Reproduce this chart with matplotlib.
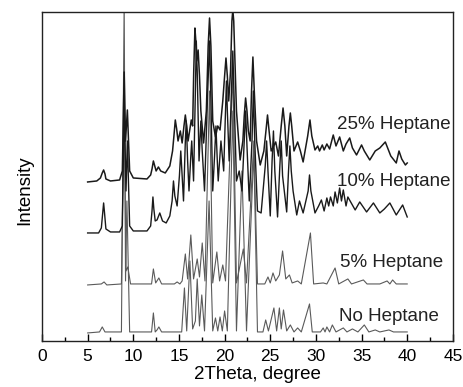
import matplotlib
matplotlib.use('Agg')
import matplotlib.pyplot as plt
from matplotlib.ticker import MultipleLocator, NullLocator

plt.rcParams['font.family'] = ['Liberation Sans', 'DejaVu Sans']

# XRD patterns (2theta, intensity in arbitrary units)
no_x = [5.0, 6.3, 6.6, 6.9, 8.7, 9.0, 9.15, 9.3, 9.6, 12.0, 12.2, 12.4, 12.6, 12.8, 13.1,
        15.3, 15.6, 15.85, 16.2, 16.5, 16.8, 17.0, 17.25, 17.5, 17.8, 18.3, 18.7, 19.0, 19.25,
        19.5, 19.75, 20.0, 20.3, 20.9, 21.3, 21.9, 22.4, 23.2, 23.6, 24.2, 24.5, 24.8, 25.4,
        25.7, 26.0, 26.2, 26.45, 26.8, 27.2, 27.6, 28.0, 28.4, 29.3, 29.6, 30.5, 30.8, 31.0,
        31.2, 31.5, 31.8, 32.2, 33.0, 33.4, 34.0, 34.6, 35.3, 35.8, 36.5, 37.0, 38.0, 38.5, 40.0]
no_y = [8, 9, 14, 9, 9, 340, 60, 140, 9, 9, 28, 9, 11, 14, 9,
        9, 53, 10, 80, 12, 20, 62, 15, 46, 10, 140, 10, 23, 10,
        24, 10, 30, 10, 230, 10, 170, 10, 190, 9, 9, 21, 10, 33,
        10, 33, 12, 31, 10, 16, 9, 13, 9, 37, 9, 9, 13, 9,
        14, 9, 16, 9, 13, 9, 12, 9, 16, 9, 11, 9, 11, 9, 9]

p5_x = [5.0, 6.5, 6.8, 7.1, 8.7, 9.0, 9.2, 9.4, 9.7, 12.0, 12.2, 12.45, 12.8, 13.1, 14.5,
        14.8, 15.1, 15.35, 15.7, 15.95, 16.3, 16.6, 17.0, 17.25, 17.55, 17.85, 18.35, 18.7,
        19.15, 19.45, 19.8, 20.1, 20.9, 21.3, 22.05, 22.4, 23.2, 23.6, 24.4, 24.75, 25.0, 25.3,
        25.6, 26.0, 26.35, 26.7, 27.1, 27.4, 28.0, 28.4, 29.4, 29.75, 30.8, 31.2, 32.1, 32.5,
        33.5, 33.9, 35.2, 35.6, 37.0, 37.8, 38.1, 38.4, 38.8, 40.0]
p5_y = [56, 57, 59, 56, 57, 240, 70, 74, 57, 57, 72, 58, 63, 57, 57,
        59, 57, 60, 87, 62, 106, 62, 82, 64, 98, 60, 250, 58,
        89, 60, 76, 60, 270, 58, 92, 58, 200, 57, 57, 64, 58, 68,
        60, 66, 90, 62, 66, 58, 60, 57, 108, 57, 58, 57, 73, 57,
        62, 57, 61, 57, 57, 60, 57, 61, 57, 57]

p10_x = [5.0, 6.2, 6.5, 6.65, 6.75, 6.85, 7.0, 7.5, 8.5, 8.8, 9.0, 9.2, 9.35, 9.6, 10.0, 11.5,
         11.9, 12.05, 12.15, 12.25, 12.4, 12.6, 12.9, 13.2, 13.6, 14.0, 14.25, 14.4, 14.55, 14.8,
         15.05, 15.2, 15.35, 15.5, 15.7, 15.8, 15.95, 16.1, 16.3, 16.4, 16.6, 16.8, 16.9, 17.0,
         17.2, 17.4, 17.55, 17.8, 18.15, 18.35, 18.5, 18.7, 18.9, 19.05, 19.2, 19.3, 19.6, 19.9,
         20.1, 20.2, 20.3, 20.5, 20.75, 20.9, 21.05, 21.3, 21.6, 21.9, 22.15, 22.3, 22.45, 22.7,
         23.0, 23.15, 23.3, 23.6, 24.0, 24.45, 24.6, 24.75, 25.0, 25.2, 25.35, 25.5, 25.8, 26.05,
         26.2, 26.35, 26.8, 27.0, 27.15, 27.3, 27.5, 27.9, 28.2, 28.6, 29.15, 29.3, 29.45, 29.9,
         30.3, 30.6, 30.9, 31.2, 31.4, 31.6, 31.9, 32.1, 32.35, 32.6, 32.8, 33.0, 33.3, 33.5,
         34.3, 34.8, 35.55, 36.3, 37.0, 37.5, 38.1, 38.8, 39.5, 40.0]
p10_y = [108, 108, 113, 128, 138, 128, 112, 109, 109, 115, 240, 150, 200, 115, 110, 110,
         115, 130, 144, 132, 120, 121, 128, 120, 118, 125, 140, 160, 145, 135,
         165, 190, 165, 140, 200, 220, 180, 150, 185, 200, 160, 250, 300, 270,
         180, 220, 190, 150, 250, 300, 240, 150, 185, 215, 180, 160, 200, 170,
         230, 260, 230, 180, 250, 290, 240, 160, 170, 150, 200, 230, 195, 140,
         200, 250, 200, 130, 128, 175, 200, 170, 125, 180, 210, 170, 124, 175,
         200, 165, 129, 170, 195, 170, 150, 126, 140, 128, 150, 166, 150, 128,
         135, 141, 130, 143, 135, 144, 135, 149, 138, 153, 140, 151, 135, 144,
         131, 139, 129, 138, 128, 132, 138, 126, 136, 124]

p25_x = [5.0, 6.0, 6.4, 6.6, 6.75, 6.9, 7.0, 7.5, 8.5, 8.8, 9.0, 9.15, 9.35, 9.6, 10.0, 11.5,
         11.9, 12.05, 12.2, 12.35, 12.5, 12.75, 13.0, 13.5, 14.0, 14.3, 14.45, 14.6, 14.75,
         14.9, 15.15, 15.35, 15.55, 15.7, 15.85, 16.0, 16.35, 16.5, 16.62, 16.75, 16.85, 16.95,
         17.1, 17.25, 17.4, 17.7, 18.0, 18.2, 18.35, 18.5, 18.7, 19.0, 19.25, 19.5, 19.8, 20.0,
         20.15, 20.3, 20.45, 20.65, 20.8, 20.9, 21.0, 21.3, 21.7, 22.0, 22.15, 22.3, 22.45, 22.6,
         22.8, 22.95, 23.1, 23.25, 23.5, 23.9, 24.3, 24.55, 24.7, 24.85, 25.1, 25.6, 25.9, 26.2,
         26.4, 26.6, 26.8, 27.05, 27.2, 27.35, 27.6, 28.0, 28.3, 28.6, 29.1, 29.35, 29.55, 29.9,
         30.2, 30.4, 30.7, 30.9, 31.2, 31.5, 31.9, 32.2, 32.6, 33.0, 33.3, 33.7, 34.0, 34.45,
         35.0, 35.3, 35.9, 36.5, 37.0, 37.6, 38.2, 38.8, 39.1, 39.4, 39.8, 40.0]
p25_y = [159, 160, 163, 168, 171, 167, 162, 160, 161, 170, 269, 200, 231, 170, 163, 162,
         166, 172, 180, 175, 170, 174, 170, 168, 175, 190, 205, 221, 212,
         200, 210, 198, 215, 226, 215, 200, 221, 215, 270, 313, 300, 280,
         291, 265, 230, 198, 230, 295, 323, 295, 220, 204, 215, 211, 240, 265,
         283, 265, 240, 270, 320, 331, 320, 230, 181, 200, 225, 243, 230, 210,
         200, 250, 284, 250, 200, 176, 190, 212, 226, 212, 190, 199, 185, 215,
         233, 215, 185, 215, 228, 215, 190, 199, 190, 179, 205, 221, 205, 191,
         195, 190, 196, 191, 197, 192, 206, 195, 204, 190, 197, 203, 193, 186,
         196, 190, 181, 190, 193, 199, 185, 178, 190, 182, 176, 178]

labels = ['No Heptane', '5% Heptane', '10% Heptane', '25% Heptane']
label_x = [32.5, 32.6, 32.3, 32.3]
label_y = [24, 78, 159, 216]

fig = plt.figure(figsize=(4.64, 3.87), dpi=100)
ax = fig.add_axes([0.0905, 0.119, 0.8855, 0.85])

ax.plot(no_x, no_y, color='#5a5a5a', lw=0.8)
ax.plot(p5_x, p5_y, color='#5a5a5a', lw=0.8)
ax.plot(p10_x, p10_y, color='#1a1a1a', lw=1.0)
ax.plot(p25_x, p25_y, color='#1a1a1a', lw=1.1)

for t, x, y in zip(labels, label_x, label_y):
    ax.text(x, y, t, fontsize=13.5, ha='left', va='center', color='#222222')

ax.set_xlim(0, 45)
ax.set_ylim(0, 329)
ax.xaxis.set_major_locator(MultipleLocator(5))
ax.xaxis.set_minor_locator(MultipleLocator(2.5))
ax.yaxis.set_major_locator(NullLocator())
ax.tick_params(axis='x', which='major', direction='in', length=5, width=1, pad=6, labelsize=12.5)
ax.tick_params(axis='x', which='minor', direction='in', length=3, width=1)
for s in ax.spines.values():
    s.set_linewidth(1.0)
    s.set_color('#222222')

ax.set_xlabel('2Theta, degree', fontsize=13.5)
ax.set_ylabel('Intensity', fontsize=13.5)
ax.xaxis.set_label_coords(0.524, -0.075)
ax.yaxis.set_label_coords(-0.022, 0.459)

fig.savefig('out.png', dpi=100)
